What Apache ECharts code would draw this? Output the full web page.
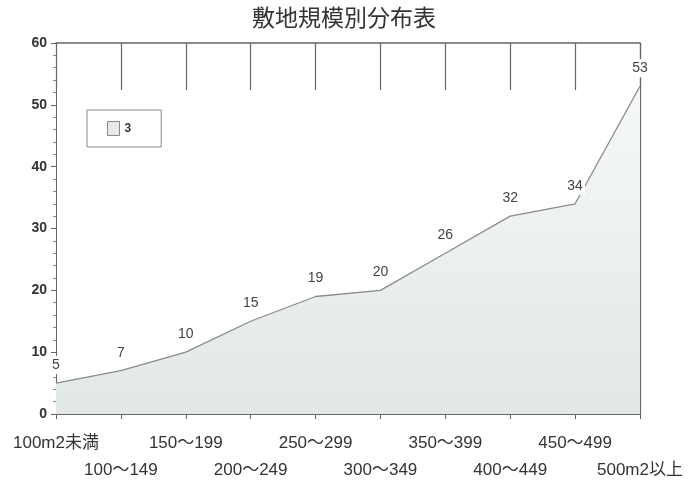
<!DOCTYPE html>
<html>
<head>
<meta charset="utf-8">
<script src="https://cdn.jsdelivr.net/npm/echarts@6/dist/echarts.min.js"></script>
<style>
  html, body { margin: 0; padding: 0; background: #fff; }
  #chart { width: 688px; height: 484px; }
</style>
</head>
<body>
<div id="chart"></div>
<script>
// 敷地規模別の件数
const categories = ['100m2未満', '100～149', '150～199', '200～249', '250～299',
                    '300～349', '350～399', '400～449', '450～499', '500m2以上'];
const counts = [5, 7, 10, 15, 19, 20, 26, 32, 34, 53];
const seriesName = '3';
const titleText = '敷地規模別分布表';

const font = '"Liberation Sans", "Noto Sans CJK JP", sans-serif';
const cjkFont = '"Noto Sans CJK JP", sans-serif';
const axisGray = '#666';

const chart = echarts.init(document.getElementById('chart'));
chart.setOption({
  animation: false,
  backgroundColor: '#fff',
  title: {
    text: titleText,
    left: 'center',
    top: 1,
    textStyle: { fontFamily: cjkFont, fontSize: 23, fontWeight: 'normal', color: '#333' }
  },
  legend: {
    data: [seriesName],
    left: 87,
    top: 110,
    orient: 'vertical',
    padding: [11, 30, 11, 20],
    borderColor: '#888',
    borderWidth: 1,
    itemWidth: 12,
    itemHeight: 14,
    itemGap: 0,
    icon: 'rect',
    itemStyle: { color: '#e6e9e7', borderColor: '#888', borderWidth: 1, opacity: 1 },
    textStyle: { fontFamily: font, fontSize: 12, color: '#333', fontWeight: 'bold' }
  },
  grid: { left: 56, right: 48, top: 43, bottom: 69 },
  xAxis: [
    {
      type: 'category',
      data: categories,
      boundaryGap: false,
      position: 'bottom',
      axisLine: { onZero: false, lineStyle: { color: axisGray, width: 1 } },
      axisTick: { show: true, interval: 0, length: 5, lineStyle: { color: axisGray } },
      axisLabel: {
        interval: 0,
        margin: 16,
        fontFamily: font,
        fontSize: 17,
        color: '#333',
        lineHeight: 27,
        formatter: (v, i) => (i % 2 === 1 ? '\n' + v : v)
      },
      splitLine: { show: false }
    },
    {
      type: 'category',
      data: categories,
      boundaryGap: false,
      position: 'top',
      axisLine: { show: true, onZero: false, lineStyle: { color: axisGray, width: 1.5 } },
      axisTick: { show: true, interval: 0, inside: true, length: 47, lineStyle: { color: axisGray, width: 1.2 } },
      axisLabel: { show: false },
      splitLine: { show: false }
    }
  ],
  yAxis: [
    {
      type: 'value',
      min: 0,
      max: 60,
      interval: 10,
      axisLine: { show: true, lineStyle: { color: axisGray } },
      axisTick: { show: true, length: 5, lineStyle: { color: axisGray } },
      minorTick: { show: true, splitNumber: 5, length: 3, lineStyle: { color: '#888' } },
      axisLabel: { margin: 9, fontFamily: font, fontSize: 14, fontWeight: 'bold', color: '#333' },
      splitLine: { show: false }
    },
    {
      type: 'value',
      min: 0,
      max: 60,
      interval: 10,
      position: 'right',
      axisLine: { show: true, lineStyle: { color: axisGray, width: 1.2 } },
      axisTick: { show: false },
      axisLabel: { show: false },
      splitLine: { show: false }
    }
  ],
  series: [
    {
      name: seriesName,
      type: 'line',
      data: counts,
      xAxisIndex: 0,
      yAxisIndex: 0,
      symbol: 'circle',
      symbolSize: 2,
      showSymbol: true,
      z: 3,
      lineStyle: { color: '#8a8a8a', width: 1.3 },
      itemStyle: { color: 'rgba(0,0,0,0)', borderWidth: 0 },
      areaStyle: {
        opacity: 1,
        color: new echarts.graphic.LinearGradient(0, 0, 0, 1, [
          { offset: 0, color: '#f5f8f6' },
          { offset: 1, color: '#e2e8e6' }
        ])
      },
      label: {
        show: true,
        position: 'top',
        distance: 8,
        fontFamily: font,
        fontSize: 14,
        color: '#444',
        backgroundColor: '#fff',
        padding: [2, 2]
      }
    }
  ]
});
</script>
</body>
</html>
